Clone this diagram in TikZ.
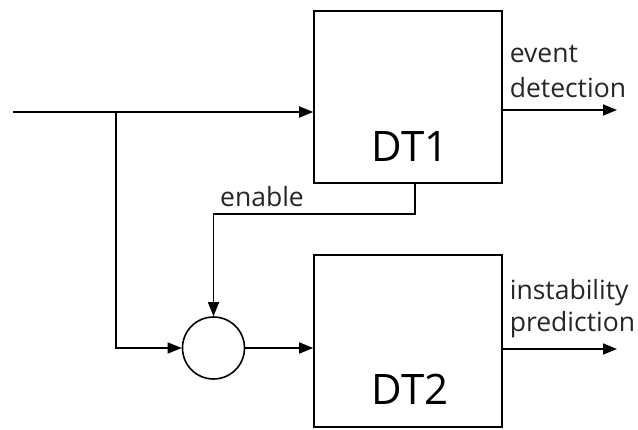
\documentclass[tikz,border=0pt]{standalone}
\usepackage{fontspec}
\setmainfont{Open Sans}
\usetikzlibrary{arrows.meta}
\begin{document}
\begin{tikzpicture}[x=1pt,y=-1pt,
  line width=1.6pt,
  sig/.style={-{Triangle[length=14pt,width=11pt]}},
  block/.style={draw,minimum width=188pt,minimum height=172pt,inner sep=0pt},
  blocktext/.style={font=\fontsize{42}{42}\selectfont,anchor=base,inner sep=0pt},
  lbl/.style={font=\fontsize{26.5}{30}\selectfont,text=black!85,inner sep=0pt,align=left}]
  \useasboundingbox (0,0) rectangle (638,430);
  % the two processing blocks
  \node[block] (dt1) at (408,97) {};
  \node[block] (dt2) at (408,341) {};
  \node[blocktext] (t1) at (410,162) {DT1};
  \node[blocktext] (t2) at (410,405) {DT2};
  % combining junction
  \node[draw,circle,minimum size=62pt,inner sep=0pt] (c) at (213.5,348) {};
  % input and branch
  \coordinate (in) at (13,112);
  \coordinate (br) at (116,112);
  \draw[sig] (in) -- (dt1.west |- in);
  \draw[sig] (br) |- (c.west);
  \draw[sig] (c.east) -- (dt2.west |- c.east);
  % enable path from DT1 down to the junction
  \coordinate (e0) at (415,183);
  \coordinate (e1) at (415,214);
  \draw[sig] (e0) -- (e1) -| (c.north);
  \node[lbl,anchor=base] (en) at (262,207) {enable};
  % outputs
  \coordinate (o1) at (617,110);
  \coordinate (o2) at (617,349);
  \draw[sig] (dt1.east |- o1) -- (o1);
  \draw[sig] (dt2.east |- o2) -- (o2);
  \node[lbl,anchor=base west] (l1) at (509,63) {event};
  \node[lbl,anchor=base west] (l2) at (509,98) {detection};
  \node[lbl,anchor=base west] (l3) at (509,300) {instability};
  \node[lbl,anchor=base west] (l4) at (509,332) {prediction};
\end{tikzpicture}
\end{document}
